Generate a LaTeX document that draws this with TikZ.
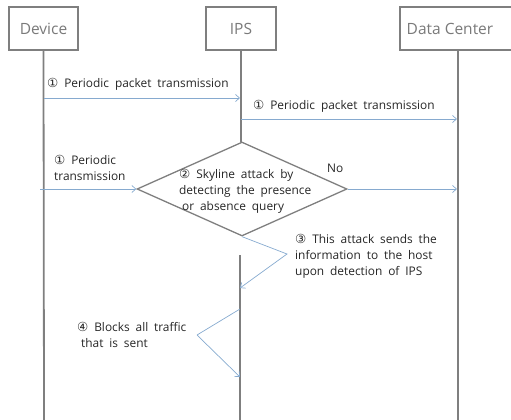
\documentclass[tikz,border=0pt]{standalone}
\usepackage{fontspec}
\setmainfont{Open Sans}
\newfontfamily\wsf{Open Sans}[WordSpace=1.9]
\newfontfamily\symf{DejaVu Sans}
\usetikzlibrary{shapes.geometric,arrows.meta}
\newcommand\cn[1]{{\symf\fontsize{12.5}{16}\selectfont #1}}
\definecolor{lgray}{HTML}{7F7F7F}
\definecolor{lblue}{HTML}{86AACF}
\definecolor{tgray}{HTML}{7A7A7A}
\tikzset{
  actor/.style={draw=lgray,line width=1.3pt,fill=white,inner sep=0pt,text=tgray,font=\fontsize{15.5}{18}\selectfont},
  life/.style={draw=lgray,line width=1.8pt},
  msg/.style={draw=lblue,line width=0.7pt,-{Straight Barb[length=4pt,width=7pt]}},
  lbl/.style={font=\wsf\fontsize{11.9}{16}\selectfont,align=left,inner sep=0pt,text=black!85},
}
\begin{document}
\begin{tikzpicture}[x=1pt,y=-1pt]
\useasboundingbox (0,0) rectangle (511,420);
\clip (0,0) rectangle (511,420);
% actors
\node[actor,minimum width=69pt,minimum height=43pt] (dev) at (43.5,28.5) {Device};
\node[actor,minimum width=70pt,minimum height=43pt] (ips) at (241,28.5) {IPS};
\node[actor,minimum width=116pt,minimum height=43pt,text depth=0pt] (dc) at (458,28.5) {\hspace*{-8pt}Data Center\hspace*{8pt}};
% lifeline coordinates
\coordinate (devend) at (44,421);
\coordinate (dcend) at (458,421);
\coordinate (ipsA) at (241,142);
\coordinate (ipsB) at (240,255);
\coordinate (ipsend) at (240,421);
\draw[life] (dev.south) -- (devend);
\draw[life] (dc.south) -- (dcend);
\draw[life] (ips.south) -- (ipsA);
\draw[life] (ipsB) -- (ipsend);
% message 1
\coordinate (m1a) at (44,98);
\coordinate (m1b) at (240,98);
\draw[msg] (m1a) -- (m1b);
\node[lbl,anchor=base west] (l1) at (47,88) {\cn{①} Periodic packet transmission};
% message 2
\coordinate (m2a) at (241,119);
\coordinate (m2b) at (457,119);
\draw[msg] (m2a) -- (m2b);
\node[lbl,anchor=base west] (l2) at (253,109) {\cn{①} Periodic packet transmission};
% diamond
\node[diamond,draw=lgray,line width=1.3pt,minimum width=210pt,minimum height=94pt,inner sep=0pt] (dia) at (242,189) {};
\node[lbl,anchor=north west] (dt) at (179,169) {\cn{②} Skyline attack by\\detecting the presence\\\hspace*{3pt}or absence query};
\coordinate (m3a) at (40,189);
\draw[msg] (m3a) -- (dia.west);
\node[lbl,anchor=north west] (l3) at (54,155) {\cn{①} Periodic\\transmission};
\coordinate (m4b) at (457,189);
\draw[msg] (dia.east) -- (m4b);
\node[lbl,anchor=base west] (no) at (327,172) {No};
% step 3
\coordinate (k3) at (287,254);
\coordinate (e3) at (240,288);
\draw[msg] (dia.south) -- (k3) -- (e3);
\node[lbl,anchor=north west] (l5) at (295,234) {\cn{③} This attack sends the\\information to the host\\upon detection of IPS};
% step 4
\coordinate (s4) at (240,309);
\coordinate (k4) at (197,335);
\coordinate (e4) at (240,377);
\draw[msg,-] (s4) -- (k4);
\draw[msg] (k4) -- (e4);
\node[lbl,anchor=north west] (l6) at (77,322) {\cn{④} Blocks all traffic\\\hspace*{4pt}that is sent};
\end{tikzpicture}
\end{document}
